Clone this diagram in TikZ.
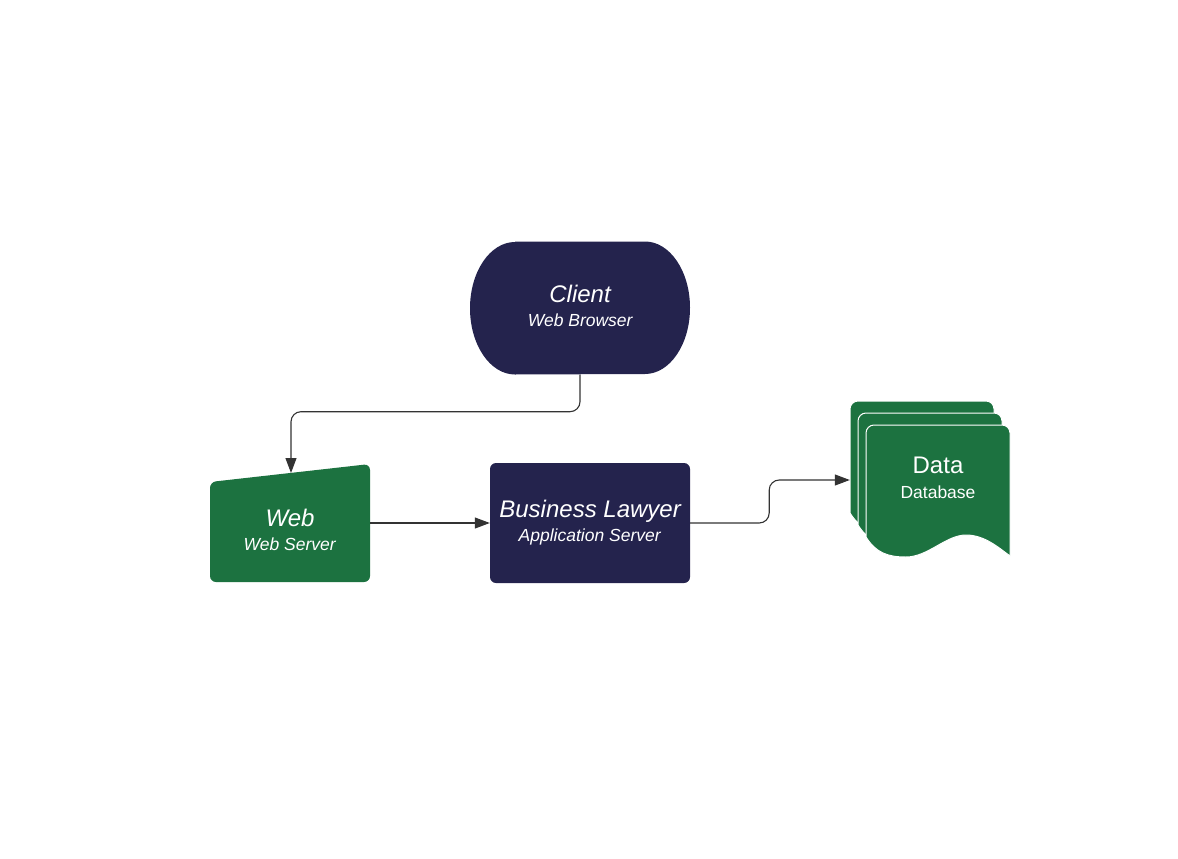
\documentclass[tikz,border=0pt]{standalone}
\usepackage{fontspec}
\setmainfont{Liberation Sans}
\usetikzlibrary{arrows.meta}
\definecolor{navy}{RGB}{36,35,77}
\definecolor{leaf}{RGB}{28,114,64}
\definecolor{wire}{RGB}{51,51,51}

\begin{document}
\begin{tikzpicture}[x=1pt,y=-1pt,
  link/.style={draw=wire,line width=1.1pt,rounded corners=10pt,-{Triangle[length=15pt,width=11pt]}},
  hull/.style={inner sep=0pt,minimum width=#1},
  head/.style={anchor=base,inner sep=0pt,text=white,font=\fontsize{24}{28}\selectfont},
  note/.style={anchor=base,inner sep=0pt,text=white,font=\fontsize{17.5}{21}\selectfont}]
\useasboundingbox (0,0) rectangle (1178,859);

% Shapes
\fill[navy] (515,241.5) -- (645,241.5) arc[start angle=90,end angle=-90,x radius=45pt,y radius=66.25pt]
  -- (515,374.5) arc[start angle=270,end angle=90,x radius=45pt,y radius=66.25pt] -- cycle;
\fill[leaf,rounded corners=6pt] (210,482) -- (370,464) -- (370,582) -- (210,582) -- cycle;
\node[hull=200pt,minimum height=120pt,fill=navy,rounded corners=6pt] (app) at (590,523) {};
\foreach \d in {0,1,2}
  \filldraw[leaf,draw=white,line width=1pt,shift={(850+8*\d,401+12*\d)}]
    (0,112) -- (0,8) arc[start angle=180,end angle=90,radius=8pt]
    -- (136,0) arc[start angle=90,end angle=0,radius=8pt]
    -- (144,131) .. controls (132,122) and (118,110) .. (100,110)
    .. controls (80,110) and (62,132) .. (40,132)
    .. controls (22,132) and (10,128) .. (0,112) -- cycle;

% Anchors of the shapes
\node[hull=220pt,minimum height=133pt] (client) at (580,308) {};
\node[hull=160pt,minimum height=118pt] (web) at (290,523) {};
\node[hull=160pt,minimum height=157pt] (data) at (930,480) {};
\coordinate (web top) at (291,473);

% Links
\draw[link] (client.south) -- ++(0,37) -| (web top);
\draw[link] (web.east) -- (app.west);
\draw[link] (app.east) -- ++(79,0) |- (data.west);

% Labels
\node[head] (client title) at (580.5,302.7) {\textit{Client}};
\node[note] (client sub) at (580.5,326.7) {\textit{Web Browser}};
\node[head] (web title) at (290,526.7) {\textit{Web}};
\node[note] (web sub) at (290,550.7) {\textit{Web Server}};
\node[head] (app title) at (590.5,517.7) {\textit{Business Lawyer}};
\node[note] (app sub) at (590,541) {\textit{Application Server}};
\node[head] (data title) at (938,473.3) {Data};
\node[note] (data sub) at (938,498.7) {Database};

\end{tikzpicture}
\end{document}
